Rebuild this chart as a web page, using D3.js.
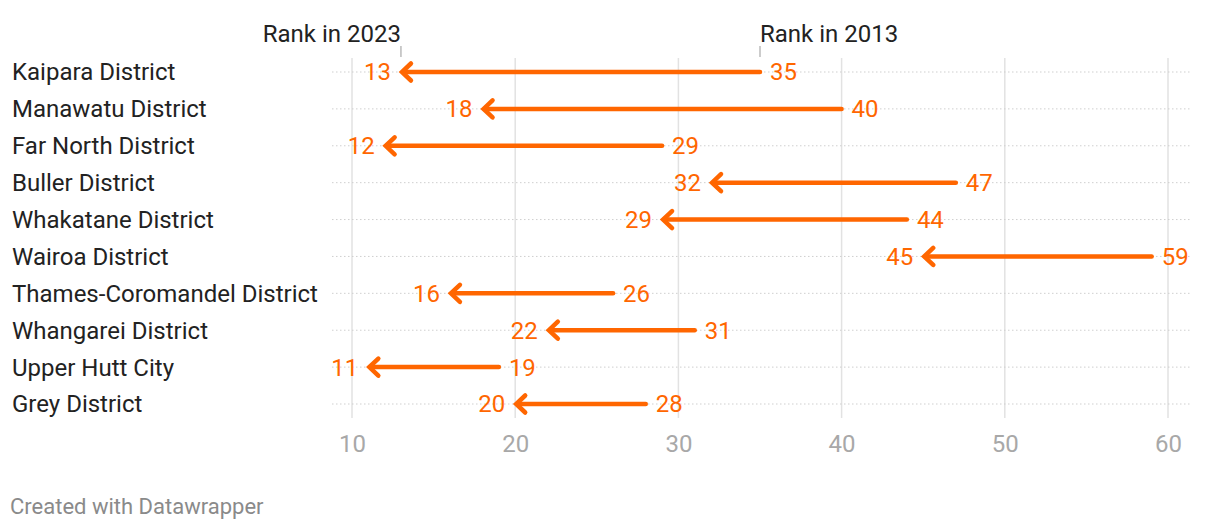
<!DOCTYPE html>
<html>
<head>
<meta charset="utf-8">
<script src="https://cdn.jsdelivr.net/npm/d3@7"></script>
<style>
  html, body { margin: 0; padding: 0; background: #fff; }
  svg { display: block; font-family: Roboto, "Noto Sans", sans-serif; }
</style>
</head>
<body>
<svg id="chart" width="1220" height="530"></svg>
<script>
const districts = [
  "Kaipara District", "Manawatu District", "Far North District", "Buller District",
  "Whakatane District", "Wairoa District", "Thames-Coromandel District",
  "Whangarei District", "Upper Hutt City", "Grey District"
];
const rank2013 = [35, 40, 29, 47, 44, 59, 26, 31, 19, 28];
const rank2023 = [13, 18, 12, 32, 29, 45, 16, 22, 11, 20];
const xTicks = [10, 20, 30, 40, 50, 60];
const headerLabels = ["Rank in 2023", "Rank in 2013"];

const ORANGE = "#ff6600";
const svg = d3.select("#chart");

const x = d3.scaleLinear().domain([10, 60]).range([352, 1168]);
const y = d3.scalePoint().domain(districts).range([72, 404]);

// vertical grid
svg.append("g").selectAll("line").data(xTicks).join("line")
  .attr("x1", d => x(d)).attr("x2", d => x(d))
  .attr("y1", 58).attr("y2", 418)
  .attr("stroke", "#e2e2e2").attr("stroke-width", 1.5);

// horizontal dotted row lines
svg.append("g").selectAll("line").data(districts).join("line")
  .attr("x1", 332).attr("x2", 1190)
  .attr("y1", d => y(d)).attr("y2", d => y(d))
  .attr("stroke", "#cfcfcf").attr("stroke-width", 1)
  .attr("stroke-dasharray", "1.5,2.5");

// x axis
const axis = d3.axisBottom(x).tickValues(xTicks).tickSize(0).tickPadding(3);
const ax = svg.append("g").attr("transform", "translate(0,432)").call(axis);
ax.select(".domain").remove();
ax.selectAll("text").attr("fill", "#a8a8a8").style("font-size", "24px")
  .style("font-family", "Roboto, sans-serif");

// header labels with ticks (first row values)
const first = 0;
const hdr = svg.append("g");
[[rank2023[first], headerLabels[0], "end"], [rank2013[first], headerLabels[1], "start"]].forEach(([v, t, anchor]) => {
  hdr.append("line").attr("x1", x(v)).attr("x2", x(v)).attr("y1", 46).attr("y2", 57)
    .attr("stroke", "#999").attr("stroke-width", 1);
  hdr.append("text").attr("x", x(v)).attr("y", 42).attr("text-anchor", anchor)
    .attr("fill", "#222").style("font-size", "24px").text(t);
});

// row labels
svg.append("g").selectAll("text").data(districts).join("text")
  .attr("x", 12).attr("y", d => y(d)).attr("dy", "0.35em")
  .attr("fill", "#222").style("font-size", "24px").text(d => d);

// arrows
const rows = districts.map((d, i) => ({ name: d, from: rank2013[i], to: rank2023[i] }));
const g = svg.append("g");
g.selectAll("line.arrow").data(rows).join("line").attr("class", "arrow")
  .attr("x1", d => x(d.from)).attr("x2", d => x(d.to) + 2)
  .attr("y1", d => y(d.name)).attr("y2", d => y(d.name))
  .attr("stroke", ORANGE).attr("stroke-width", 4.5).attr("stroke-linecap", "round");
g.selectAll("path.head").data(rows).join("path").attr("class", "head")
  .attr("d", d => {
    const tx = x(d.to) + 1, ty = y(d.name);
    return `M${tx + 9},${ty - 8.5}L${tx},${ty}L${tx + 9},${ty + 8.5}`;
  })
  .attr("fill", "none").attr("stroke", ORANGE).attr("stroke-width", 4.5)
  .attr("stroke-linecap", "round").attr("stroke-linejoin", "miter");

// value labels
g.selectAll("text.v23").data(rows).join("text").attr("class", "v23")
  .attr("x", d => x(d.to) - 10).attr("y", d => y(d.name)).attr("dy", "0.35em")
  .attr("text-anchor", "end").attr("fill", ORANGE).style("font-size", "24px")
  .text(d => d.to);
g.selectAll("text.v13").data(rows).join("text").attr("class", "v13")
  .attr("x", d => x(d.from) + 10).attr("y", d => y(d.name)).attr("dy", "0.35em")
  .attr("text-anchor", "start").attr("fill", ORANGE).style("font-size", "24px")
  .text(d => d.from);

// footer
svg.append("text").attr("x", 10).attr("y", 514).attr("fill", "#8a8a8a")
  .style("font-size", "22px").text("Created with Datawrapper");
</script>
</body>
</html>
